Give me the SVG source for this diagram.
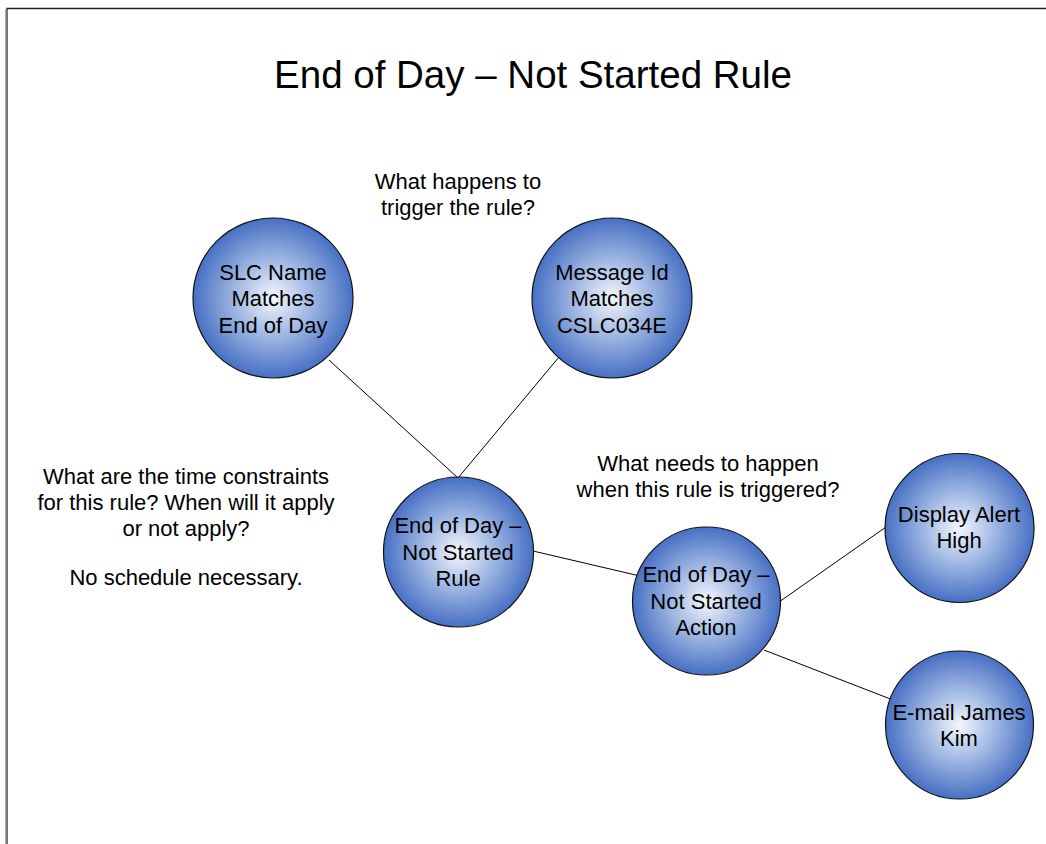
<svg xmlns="http://www.w3.org/2000/svg" width="1046" height="844" viewBox="0 0 1046 844">
<defs>
<radialGradient id="g" cx="50%" cy="50%" r="50%">
<stop offset="0" stop-color="#f4f7fd"/>
<stop offset="0.45" stop-color="#a4bbe4"/>
<stop offset="1" stop-color="#4770c4"/>
</radialGradient>
</defs>
<style>
.n{fill:url(#g);stroke:#111;stroke-width:1.2}
.t{font-family:"Liberation Sans",Arial,sans-serif;font-size:22px;fill:#000;text-anchor:middle}
.c line{stroke:#000;stroke-width:1}
</style>
<rect x="0" y="0" width="1046" height="844" fill="#fff"/>
<path d="M7 844V8.5H1046" fill="none" stroke="#222" stroke-width="1.3"/>
<line x1="6" y1="9" x2="6" y2="844" stroke="#888" stroke-width="1.5"/>
<text x="533" y="88" font-family="Liberation Sans,Arial,sans-serif" font-size="38.5" text-anchor="middle">End of Day – Not Started Rule</text>
<g class="c" id="connectors">
<line x1="329" y1="360" x2="458" y2="478"/>
<line x1="559" y1="357" x2="458" y2="478"/>
<line x1="533" y1="551" x2="640" y2="576"/>
<line x1="779" y1="602" x2="886" y2="527"/>
<line x1="764" y1="650" x2="893" y2="700"/>
</g>
<g id="slc"><circle class="n" cx="273" cy="298" r="80"/><text class="t" x="273" y="280">SLC Name</text><text class="t" x="273" y="306">Matches</text><text class="t" x="273" y="333">End of Day</text></g>
<g id="msg"><circle class="n" cx="612" cy="298" r="80"/><text class="t" x="612" y="280">Message Id</text><text class="t" x="612" y="306">Matches</text><text class="t" x="612" y="333">CSLC034E</text></g>
<g id="rule"><circle class="n" cx="458.5" cy="552" r="75"/><text class="t" x="458" y="533">End of Day –</text><text class="t" x="458" y="560">Not Started</text><text class="t" x="458" y="586">Rule</text></g>
<g id="action"><circle class="n" cx="706.5" cy="601" r="74"/><text class="t" x="706" y="582">End of Day –</text><text class="t" x="706" y="609">Not Started</text><text class="t" x="706" y="635">Action</text></g>
<g id="display"><circle class="n" cx="959.5" cy="528" r="74.5"/><text class="t" x="959" y="522">Display Alert</text><text class="t" x="959" y="548">High</text></g>
<g id="email"><circle class="n" cx="959.5" cy="725" r="74"/><text class="t" x="959" y="720">E-mail James</text><text class="t" x="959" y="746">Kim</text></g>
<g id="notes">
<text class="t" x="458" y="189">What happens to</text>
<text class="t" x="458" y="215">trigger the rule?</text>
<text class="t" x="708" y="471">What needs to happen</text>
<text class="t" x="708" y="497">when this rule is triggered?</text>
<text class="t" x="186" y="484">What are the time constraints</text>
<text class="t" x="186" y="510">for this rule? When will it apply</text>
<text class="t" x="186" y="536">or not apply?</text>
<text class="t" x="186" y="585">No schedule necessary.</text>
</g>
</svg>
